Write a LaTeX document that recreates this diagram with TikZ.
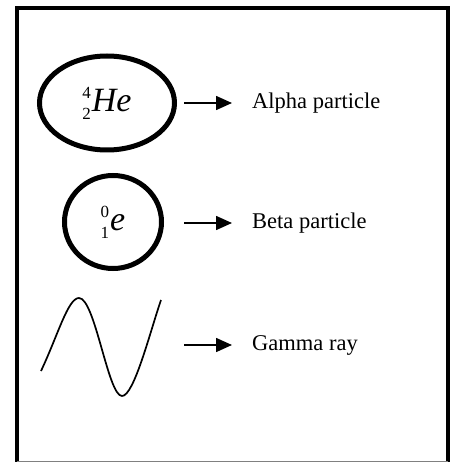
\documentclass[tikz,border=0pt]{standalone}
\usepackage{fontspec}
\setmainfont{Liberation Serif}
\usetikzlibrary{shapes.geometric,arrows.meta}
\newcommand\isotope[3]{{\fontsize{17}{17}\selectfont\raisebox{13pt}{#1}\llap{\raisebox{-8pt}{#2}}}\kern1pt{\fontsize{34}{34}\selectfont\itshape #3}}
\begin{document}
\begin{tikzpicture}[x=1pt,y=-1pt,
  particle/.style={ellipse,draw,line width=5pt,inner sep=0pt},
  label/.style={anchor=west,inner sep=0pt,font=\fontsize{22.5}{22.5}\selectfont},
  arr/.style={line width=1.6pt,-{Triangle[length=16pt,width=14pt]},shorten >=20pt},
  frame/.style={line width=3.5pt}]
\useasboundingbox (0,0) rectangle (455,462);
\draw[frame] (17,462) -- (17,8) -- (448,8) -- (448,462);
\draw[gray,line width=1pt] (17,461.5) -- (448,461.5);
% alpha
\node[particle,minimum width=135,minimum height=94] (alpha) at (107,103) {\raisebox{-4pt}{\isotope{4}{2}{He}}};
\node[label] (lalpha) at (252,103) {Alpha particle};
\coordinate (s1) at (184,103);
\draw[arr] (s1) -- (lalpha.west);
% beta
\node[particle,minimum width=97,minimum height=93] (beta) at (113,222) {\raisebox{-4pt}{\isotope{0}{1}{e}}};
\node[label] (lbeta) at (252,223) {Beta particle};
\coordinate (s2) at (184,223);
\draw[arr] (s2) -- (lbeta.west);
% gamma
\draw[line width=1.7pt] (41,371) .. controls (58,335) and (68,298) .. (79,298)
  .. controls (95,298) and (108,396) .. (122,396)
  .. controls (134,396) and (150,332) .. (161,300);
\node[label] (lgamma) at (252,345) {Gamma ray};
\coordinate (s3) at (184,345);
\draw[arr] (s3) -- (lgamma.west);
\end{tikzpicture}
\end{document}
